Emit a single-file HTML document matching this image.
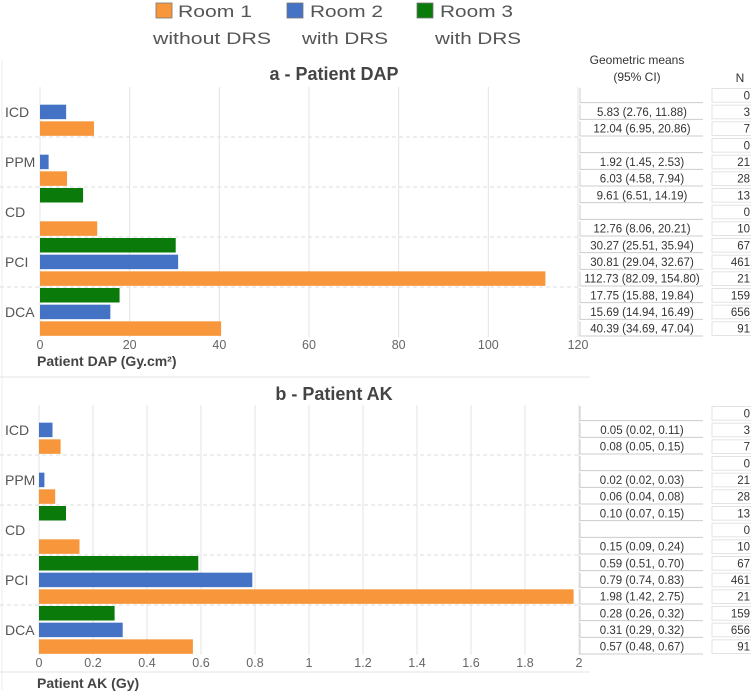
<!DOCTYPE html>
<html><head><meta charset="utf-8">
<style>
html,body{margin:0;padding:0;background:#fff;}
svg{display:block;font-family:"Liberation Sans",sans-serif;}
</style></head>
<body>
<svg id="chart" width="751" height="694" viewBox="0 0 751 694" xmlns="http://www.w3.org/2000/svg">
  <g font-size="17" fill="#555">
    <rect x="156" y="3" width="16" height="15" fill="#F7963A" stroke="#777" stroke-width="0.8"/>
    <text x="178" y="17" textLength="74" lengthAdjust="spacingAndGlyphs">Room 1</text>
    <text x="212" y="44" text-anchor="middle" textLength="118" lengthAdjust="spacingAndGlyphs">without DRS</text>
    <rect x="287" y="3" width="16" height="15" fill="#4472C4" stroke="#777" stroke-width="0.8"/>
    <text x="310" y="17" textLength="73" lengthAdjust="spacingAndGlyphs">Room 2</text>
    <text x="345" y="44" text-anchor="middle" textLength="86" lengthAdjust="spacingAndGlyphs">with DRS</text>
    <rect x="417" y="3" width="16" height="15" fill="#0A7A0A" stroke="#777" stroke-width="0.8"/>
    <text x="440" y="17" textLength="73" lengthAdjust="spacingAndGlyphs">Room 3</text>
    <text x="478" y="44" text-anchor="middle" textLength="86" lengthAdjust="spacingAndGlyphs">with DRS</text>
  </g>
  <line x1="2" y1="60" x2="2" y2="690" stroke="#eee"/>
  <line x1="0" y1="377" x2="590" y2="377" stroke="#e4e4e4"/>
  <text x="637" y="64" font-size="12" fill="#333" text-anchor="middle">Geometric means</text>
  <text x="637" y="81" font-size="12" fill="#333" text-anchor="middle">(95% CI)</text>
  <text x="740" y="82" font-size="12" fill="#333" text-anchor="middle">N</text>
  <g id="panelA"></g>
  <g id="panelB"></g>
</svg>
<script>
const categories = ["ICD","PPM","CD","PCI","DCA"];
const dapRoom1 = [12.04, 6.03, 12.76, 112.73, 40.39];
const dapRoom2 = [5.83, 1.92, null, 30.81, 15.69];
const dapRoom3 = [null, null, 9.61, 30.27, 17.75];
const dapCi1 = ["12.04 (6.95, 20.86)","6.03 (4.58, 7.94)","12.76 (8.06, 20.21)","112.73 (82.09, 154.80)","40.39 (34.69, 47.04)"];
const dapCi2 = ["5.83 (2.76, 11.88)","1.92 (1.45, 2.53)","","30.81 (29.04, 32.67)","15.69 (14.94, 16.49)"];
const dapCi3 = ["","","9.61 (6.51, 14.19)","30.27 (25.51, 35.94)","17.75 (15.88, 19.84)"];
const akRoom1 = [0.08, 0.06, 0.15, 1.98, 0.57];
const akRoom2 = [0.05, 0.02, null, 0.79, 0.31];
const akRoom3 = [null, null, 0.10, 0.59, 0.28];
const akCi1 = ["0.08 (0.05, 0.15)","0.06 (0.04, 0.08)","0.15 (0.09, 0.24)","1.98 (1.42, 2.75)","0.57 (0.48, 0.67)"];
const akCi2 = ["0.05 (0.02, 0.11)","0.02 (0.02, 0.03)","","0.79 (0.74, 0.83)","0.31 (0.29, 0.32)"];
const akCi3 = ["","","0.10 (0.07, 0.15)","0.59 (0.51, 0.70)","0.28 (0.26, 0.32)"];
const nRoom1 = [7, 28, 10, 21, 91];
const nRoom2 = [3, 21, 0, 461, 656];
const nRoom3 = [0, 0, 13, 67, 159];
const dapTicks = [0,20,40,60,80,100,120];
const akTicks = [0,0.2,0.4,0.6,0.8,1,1.2,1.4,1.6,1.8,2];
const dapTickLabels = ["0","20","40","60","80","100","120"];
const akTickLabels = ["0","0.2","0.4","0.6","0.8","1","1.2","1.4","1.6","1.8","2"];

const NS = "http://www.w3.org/2000/svg";
const colors = ["#0A7A0A","#4472C4","#F7963A"]; // slot order: room3, room2, room1
function mk(parent, tag, attrs, text){
  const e = document.createElementNS(NS, tag);
  for (const k in attrs) e.setAttribute(k, attrs[k]);
  if (text !== undefined) e.textContent = text;
  parent.appendChild(e);
  return e;
}
function panel(g, opt){
  const x0 = opt.x0, x1 = opt.xEnd, top = opt.top, catH = 50, slotH = catH/3;
  const xs = v => x0 + (v - opt.min) / (opt.max - opt.min) * (x1 - x0);
  const bottom = top + catH * categories.length;
  const t = mk(g, "text", {x: 334, y: opt.titleY, "font-size": 18, "font-weight": "bold", fill: "#444", "text-anchor": "middle"}, opt.title);
  
  
  opt.ticks.forEach((tv, i) => {
    const gl = mk(g, "line", {x1: xs(tv), x2: xs(tv), y1: top, y2: bottom, stroke: "#e4e4e4"});
    
    
    const tl = mk(g, "text", {x: xs(tv), y: bottom + 12, "font-size": 12.5, fill: "#666", "text-anchor": "middle"}, opt.tickLabels[i]);
    
    
  });
  const xt = mk(g, "text", {x: 37, y: bottom + opt.xLabelDy, "font-size": 14, "font-weight": "bold", fill: "#444"}, opt.xLabel);
  
  
  const series = [opt.s3, opt.s2, opt.s1];
  const cis = [opt.c3, opt.c2, opt.c1];
  const ns = [nRoom3, nRoom2, nRoom1];
  categories.forEach((c, ci) => {
    const cy = top + ci * catH;
    if (ci > 0) {
      const sep = mk(g, "line", {x1: 0, x2: 580, y1: cy, y2: cy, stroke: "#ddd", "stroke-dasharray": "4,3"});
      
      
    }
    const cl = mk(g, "text", {x: 5, y: cy + catH/2 + 5, "font-size": 14, fill: "#555"}, c);
    
    
    for (let s = 0; s < 3; s++) {
      const sy = cy + s * slotH;
      const v = series[s][ci];
      if (v !== null) {
        const b = mk(g, "rect", {x: xs(0), y: sy + 1, width: xs(v) - xs(0), height: 14.5, fill: colors[s]});
        
        
      }
      const cl2 = mk(g, "path", {d: `M580 ${sy+1} V${sy+slotH-1} H703`, fill: "none", stroke: "#ccc", "stroke-width": 1});
      
      
      const ctx = mk(g, "text", {x: 642, y: sy + slotH/2 + 4, "font-size": 11.5, fill: "#333", "text-anchor": "middle"}, cis[s][ci]);
      
      
      const nb = mk(g, "rect", {x: 712, y: sy + 1.5, width: 40, height: slotH - 3, fill: "#fff", stroke: "#ddd", "stroke-width": 0.8});
      
      
      const nt = mk(g, "text", {x: 750, y: sy + slotH/2 + 4, "font-size": 11.5, fill: "#333", "text-anchor": "end"}, String(ns[s][ci]));
      
      
    }
  });
}
panel(document.getElementById("panelA"), {key: "dap", title: "a - Patient DAP", titleY: 80, top: 87, min: 0, max: 120, x0: 40, xEnd: 578, xLabelDy: 29,
  ticks: dapTicks, tickLabels: dapTickLabels, xLabel: "Patient DAP (Gy.cm²)", s1: dapRoom1, s2: dapRoom2, s3: dapRoom3, c1: dapCi1, c2: dapCi2, c3: dapCi3});
panel(document.getElementById("panelB"), {key: "ak", title: "b - Patient AK", titleY: 400, top: 405, min: 0, max: 2, x0: 39, xEnd: 579, xLabelDy: 33,
  ticks: akTicks, tickLabels: akTickLabels, xLabel: "Patient AK (Gy)", s1: akRoom1, s2: akRoom2, s3: akRoom3, c1: akCi1, c2: akCi2, c3: akCi3});
const lineB = document.createElementNS(NS, "line");
lineB.setAttribute("x1", 0); lineB.setAttribute("x2", 590); lineB.setAttribute("y1", 672); lineB.setAttribute("y2", 672); lineB.setAttribute("stroke", "#e4e4e4");


document.getElementById("chart").appendChild(lineB);
</script>
</body></html>
